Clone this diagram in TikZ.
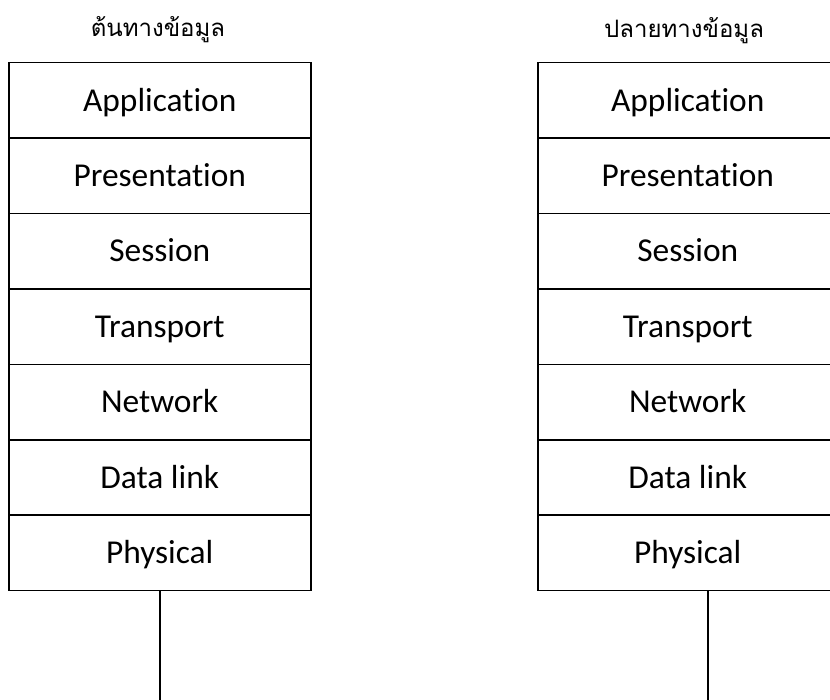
\documentclass[tikz,border=0pt]{standalone}
\usepackage{fontspec}
\setmainfont{Carlito}[Ligatures=NoCommon]
\newfontfamily\thaifont[Script=Thai]{Loma}
\begin{document}
\begin{tikzpicture}[x=0.5pt,y=-0.5pt,
  layer/.style={draw=black,line width=0.75pt,minimum width=151pt,minimum height=37.7pt,
    inner sep=0pt,text height=10.75pt,text depth=0pt,
    font=\fontsize{16.7pt}{20pt}\selectfont,anchor=north west},
  stacktitle/.style={font=\thaifont\fontsize{12pt}{14pt}\selectfont},
  wire/.style={draw=black,line width=0.75pt}]
\useasboundingbox (0,0) rectangle (830,700);
% source stack
\node[stacktitle] (srcT) at (158,30) {ต้นทางข้อมูล};
\foreach \i/\t in {1/Application,2/Presentation,3/Session,4/Transport,5/Network,6/Data link,7/Physical}{
  \node[layer] (s\i) at (8,{62+75.4*(\i-1)}) {\t};
}
% destination stack
\node[stacktitle] (dstT) at (684,31) {ปลายทางข้อมูล};
\foreach \i/\t in {1/Application,2/Presentation,3/Session,4/Transport,5/Network,6/Data link,7/Physical}{
  \node[layer,minimum width=150pt] (d\i) at (537,{62+75.4*(\i-1)}) {\t};
}
% links to the medium
\coordinate (sEnd) at (160,700);
\coordinate (dEnd) at (708,700);
\draw[wire] (s7.south -| sEnd) -- (sEnd);
\draw[wire] (d7.south -| dEnd) -- (dEnd);
\end{tikzpicture}
\end{document}
